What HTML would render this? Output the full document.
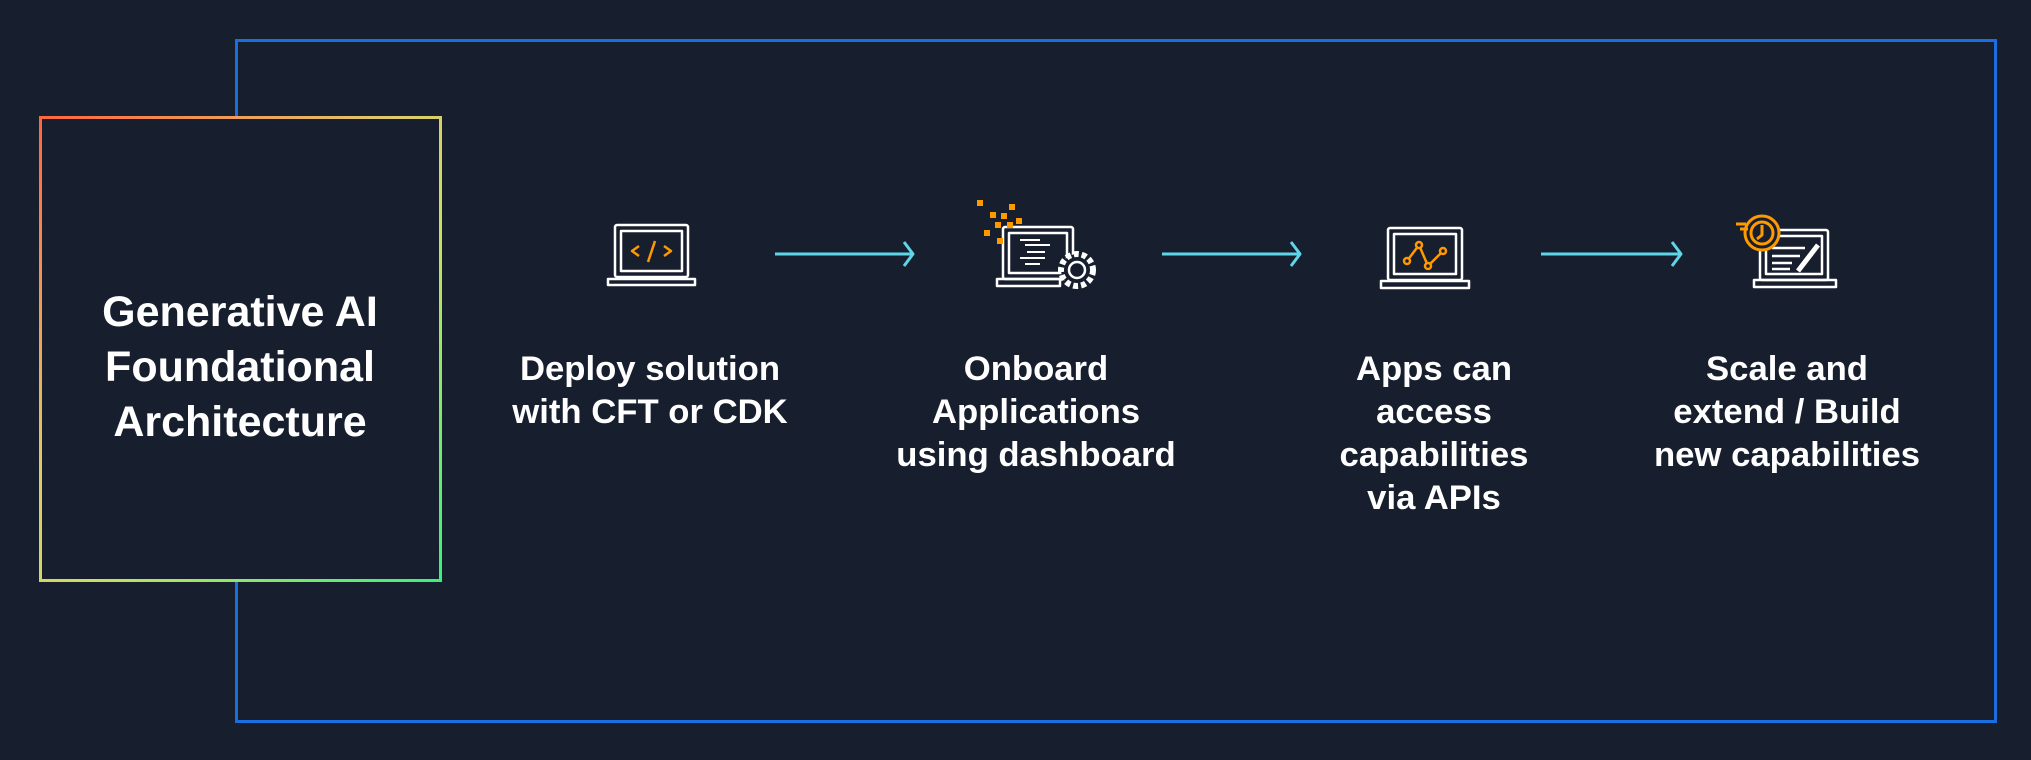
<!DOCTYPE html>
<html><head><meta charset="utf-8"><style>
html,body{margin:0;padding:0;}
body{width:2031px;height:760px;background:#171e2d;position:relative;overflow:hidden;font-family:"Liberation Sans",sans-serif;}
.blue{position:absolute;left:235px;top:39px;width:1756px;height:678px;border:3px solid #1a6fe0;}
.grad{position:absolute;left:39px;top:116px;width:397px;height:460px;background:#171e2d;border:3px solid;border-image:linear-gradient(135deg,#ff6640 0%,#e0c86a 40%,#c8e060 60%,#3cf07a 100%) 1;}
.t{position:absolute;color:#fff;font-weight:bold;text-align:center;transform-origin:center;white-space:nowrap;}
.main{left:40px;width:400px;top:285px;font-size:43px;line-height:55px;transform:scaleX(1.0);}
.lab{font-size:34px;line-height:43px;top:348px;width:400px;transform:scaleX(1.02);}
svg{position:absolute;left:0;top:0;}
</style></head><body>
<div class="blue"></div>
<div class="grad"></div>
<div class="t main">Generative AI<br>Foundational<br>Architecture</div>
<div class="t lab" style="left:450px">Deploy solution<br>with CFT or CDK</div>
<div class="t lab" style="left:836px">Onboard<br>Applications<br>using dashboard</div>
<div class="t lab" style="left:1234px">Apps can<br>access<br>capabilities<br>via APIs</div>
<div class="t lab" style="left:1587px">Scale and<br>extend / Build<br>new capabilities</div>
<svg width="2031" height="760" fill="none" stroke-linejoin="round">
<g stroke="#5fd6e8" stroke-width="3">
<line x1="775" y1="254" x2="912" y2="254"/><path d="M904 242 L913 254 L904 266"/>
<line x1="1162" y1="254" x2="1299" y2="254"/><path d="M1291 242 L1300 254 L1291 266"/>
<line x1="1541" y1="254" x2="1680" y2="254"/><path d="M1672 242 L1681 254 L1672 266"/>
</g>
<g stroke="#fff" stroke-width="2.5">
<rect x="615" y="225" width="73" height="52" rx="2"/><rect x="621" y="231" width="61" height="40"/>
<path d="M608 279 H695 V285 H608 Z"/>
</g>
<g stroke="#f90" stroke-width="2.5"><path d="M639 246 L632 251 L639 256"/><path d="M664 246 L671 251 L664 256"/><path d="M655 241 L648 262"/></g>
<g stroke="#fff" stroke-width="2.5">
<rect x="1003" y="227" width="70" height="52" rx="2"/><rect x="1009" y="233" width="58" height="40"/>
<path d="M997 279 H1060 V286 H997 Z"/>
<circle cx="1077" cy="270" r="16" fill="#171e2d" stroke-dasharray="5 3" stroke-width="6"/>
<circle cx="1077" cy="270" r="8"/>
</g>
<g stroke="#fff" stroke-width="2"><path d="M1020 240 H1040 M1025 245 H1050 M1027 252 H1045 M1020 258 H1045 M1025 264 H1040"/></g>
<g fill="#f90"><rect x="977" y="200" width="6" height="6"/><rect x="1009" y="204" width="6" height="6"/><rect x="990" y="212" width="6" height="6"/><rect x="1001" y="213" width="6" height="6"/><rect x="995" y="222" width="6" height="6"/><rect x="1007" y="222" width="6" height="6"/><rect x="1016" y="218" width="6" height="6"/><rect x="984" y="230" width="6" height="6"/><rect x="997" y="238" width="6" height="6"/></g>
<g stroke="#fff" stroke-width="2.5">
<rect x="1388" y="228" width="74" height="52" rx="2"/><rect x="1394" y="234" width="62" height="40"/>
<path d="M1381 281 H1469 V288 H1381 Z"/>
</g>
<g stroke="#f90" stroke-width="2.5"><path d="M1407 261 L1419 245 L1428 266 L1443 251"/><circle cx="1407" cy="261" r="3" fill="#171e2d"/><circle cx="1419" cy="245" r="3" fill="#171e2d"/><circle cx="1428" cy="266" r="3" fill="#171e2d"/><circle cx="1443" cy="251" r="3" fill="#171e2d"/></g>
<g stroke="#fff" stroke-width="2.5">
<rect x="1760" y="230" width="68" height="50" rx="2"/><rect x="1766" y="236" width="56" height="38"/>
<path d="M1754 280 H1836 V287 H1754 Z"/>
<path d="M1772 248 H1805 M1772 256 H1800 M1772 263 H1792 M1772 269 H1790"/>
<path d="M1798 271 L1818 245" stroke-width="5"/>
</g>
<g stroke="#f90" stroke-width="3"><circle cx="1762" cy="233" r="17" fill="#171e2d"/><circle cx="1762" cy="233" r="11"/><path d="M1762 225 V235 L1757 239"/><path d="M1736 224 H1746 M1740 229 H1748"/></g>
</svg>
</body></html>
